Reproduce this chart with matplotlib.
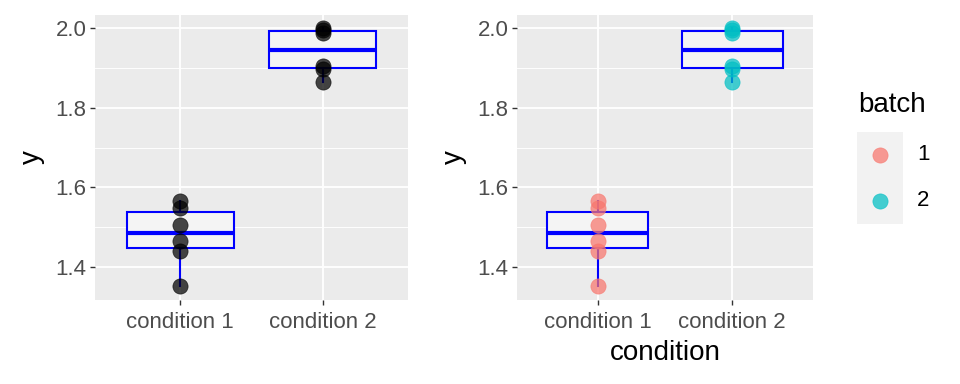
import matplotlib

matplotlib.use("Agg")
import matplotlib.pyplot as plt

plt.rcParams["font.family"] = ["Liberation Sans", "DejaVu Sans"]

# values
conditions = ["condition 1", "condition 2"]
y_cond1 = [1.352, 1.441, 1.466, 1.504, 1.548, 1.566]
y_cond2 = [1.866, 1.897, 1.905, 1.988, 1.995, 2.001]
batches = ["1", "2"]
batch_colors = ["#F8766D", "#00BFC4"]
y_ticks = [1.4, 1.6, 1.8, 2.0]
y_minor = [1.5, 1.7, 1.9]

PANEL = "#EBEBEB"
TICK_TXT = "#4D4D4D"
TICK_COL = "#333333"
TICK_SIZE = 16
TITLE_SIZE = 20


def draw_boxes(ax):
    ax.boxplot([y_cond1, y_cond2], positions=[1, 2], widths=0.75,
               patch_artist=True, showcaps=False, showfliers=False, whis=1.5,
               manage_ticks=False,
               boxprops=dict(facecolor="#F4F4F4", edgecolor="blue", linewidth=1.5),
               whiskerprops=dict(color="blue", linewidth=1.5),
               medianprops=dict(color="blue", linewidth=3.0),
               zorder=2)


def style_axes(ax):
    ax.set_facecolor(PANEL)
    for s in ax.spines.values():
        s.set_visible(False)
    ax.set_xlim(0.4, 2.6)
    ax.set_ylim(1.3165, 2.0335)
    ax.set_yticks(y_ticks)
    ax.set_yticklabels([f"{t:.1f}" for t in y_ticks])
    ax.set_yticks(y_minor, minor=True)
    ax.tick_params(axis="y", which="minor", length=0)
    ax.set_xticks([1, 2])
    ax.set_xticklabels(conditions)
    ax.tick_params(axis="both", which="major", length=3.5, width=1.0,
                   color=TICK_COL, labelcolor=TICK_TXT, labelsize=TICK_SIZE, pad=2.5)
    ax.tick_params(axis="x", pad=5)
    ax.grid(True, which="major", color="white", linewidth=1.3)
    ax.grid(True, which="minor", axis="y", color="white", linewidth=0.65)
    ax.set_axisbelow(True)
    ax.set_ylabel("y", fontsize=TITLE_SIZE, labelpad=8)


fig = plt.figure(figsize=(9.6, 3.84), dpi=100)
ax1 = fig.add_axes([95 / 960, 84 / 384, 313 / 960, 285 / 384])
ax2 = fig.add_axes([517 / 960, 84 / 384, 296 / 960, 285 / 384])

for ax in (ax1, ax2):
    draw_boxes(ax)
    style_axes(ax)

data = [y_cond1, y_cond2]
for i, vals in enumerate(data):
    ax1.scatter([i + 1] * len(vals), vals, s=120, color="black", alpha=0.72,
                linewidths=0.5, edgecolors="black", zorder=3)
    ax2.scatter([i + 1] * len(vals), vals, s=120, color=batch_colors[i],
                alpha=0.72, linewidths=0.5, edgecolors=batch_colors[i], zorder=3)

ax2.set_xlabel("condition", fontsize=TITLE_SIZE, labelpad=5)

# legend
fig.text(858 / 960, 1 - 105 / 384, "batch", fontsize=TITLE_SIZE, va="center", ha="left")
lax = fig.add_axes([857 / 960, 160 / 384, 46 / 960, 92 / 384])
lax.set_facecolor("#F2F2F2")
lax.set_xlim(0, 1)
lax.set_ylim(0, len(batches))
lax.set_xticks([])
lax.set_yticks([])
for s in lax.spines.values():
    s.set_visible(False)
for k, (b, c) in enumerate(zip(batches, batch_colors)):
    yk = len(batches) - k - 0.5
    lax.scatter([0.5], [yk], s=120, color=c, alpha=0.72, linewidths=0.5, edgecolors=c)
    lax.text(1.3, yk, b, fontsize=TICK_SIZE, va="center", ha="left",
             transform=lax.transData, clip_on=False)

fig.savefig("out.png", dpi=100, facecolor="white")
